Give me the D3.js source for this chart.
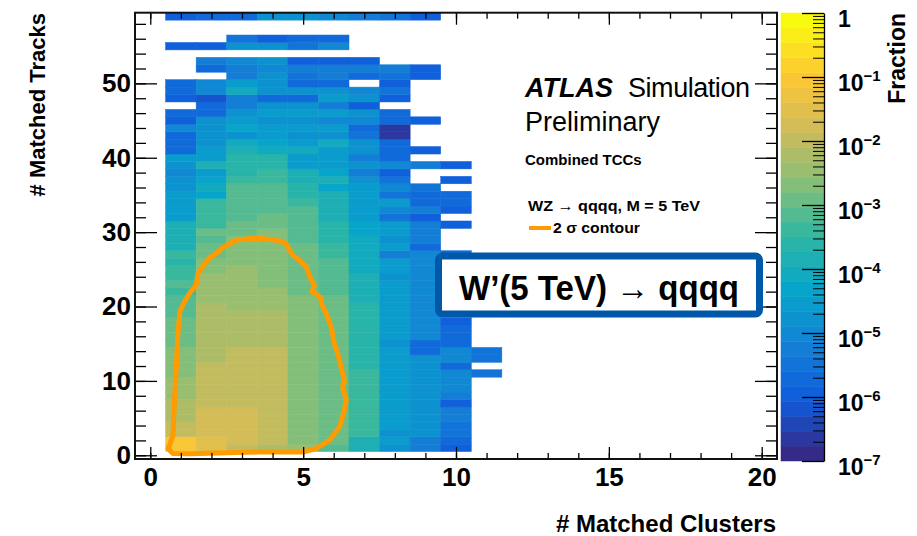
<!DOCTYPE html>
<html>
<head>
<meta charset="utf-8">
<script src="https://cdn.jsdelivr.net/npm/d3@7"></script>
<style>
  body { margin: 0; background: #fff; }
  svg { display: block; }
  text { font-family: "Liberation Sans", Arial, Helvetica, sans-serif; fill: #000; }
</style>
</head>
<body>
<div id="chart"></div>
<script>
// log10(fraction) per bin, index = # matched tracks (0..59), one array per # matched clusters
const _ = null;
const col1 = [_, -1.0, -1.1, -1.9, -1.95, -2.25, -2.25, -2.3, -2.5, -2.5,
  -2.55, -2.7, -2.7, -2.75, -2.75, -2.95, -2.95, -3.0, -3.0, -3.2,
  -3.25, -3.25, -3.3, -3.25, -3.3, -3.5, -3.55, -3.5, -3.8, -3.8,
  -3.8, -3.9, -4.45, -4.45, -4.5, -4.6, -4.8, -4.8, -5.0, -4.8,
  -4.6, -5.65, -5.8, -5.8, -5.0, -5.9, -5.8, _, -5.95, -5.7,
  -5.8, _, _, _, _, -5.9, _, _, _, -6.0];
const col2 = [_, -1.5, -1.55, -1.75, -1.75, -1.75, -1.75, -1.95, -1.95, -1.95,
  -2.0, -2.0, -2.0, -2.15, -2.15, -2.15, -2.15, -2.3, -2.3, -2.3,
  -2.3, -2.55, -2.55, -2.55, -2.55, -2.8, -2.8, -2.9, -2.9, -3.1,
  -3.0, -3.4, -3.4, -3.4, -3.5, -4.35, -4.1, -4.4, -4.45, -3.8,
  -4.6, -4.6, -4.9, -4.9, -4.8, -4.9, -5.65, -5.7, -6.1, -5.0,
  -5.0, _, -5.8, -5.3, _, -5.9, _, _, _, -5.8];
const col3 = [_, -1.95, -1.75, -1.75, -1.75, -1.75, -1.75, -1.95, -1.95, -1.95,
  -1.95, -1.95, -1.95, -1.95, -1.95, -2.2, -2.2, -2.2, -2.2, -2.2,
  -2.55, -2.55, -2.55, -2.55, -2.55, -2.55, -2.7, -2.7, -2.7, -2.8,
  -2.9, -2.9, -3.1, -3.1, -3.2, -3.25, -3.25, -3.4, -3.7, -3.6,
  -3.7, -3.8, -4.1, -4.8, -4.3, -4.6, -4.8, -5.2, -5.3, -4.2,
  -4.6, -5.3, -5.3, -5.0, _, -4.9, -5.5, _, _, -5.8];
const col4 = [_, -2.2, -1.9, -1.9, -1.9, -1.9, -1.9, -1.95, -1.95, -1.95,
  -1.95, -1.95, -1.95, -1.95, -1.95, -2.15, -2.15, -2.15, -2.3, -2.3,
  -2.5, -2.5, -2.5, -2.65, -2.65, -2.65, -2.65, -2.65, -2.65, -2.75,
  -2.8, -2.9, -2.9, -3.05, -3.2, -3.2, -3.25, -3.45, -3.45, -3.6,
  -3.6, -4.2, -4.35, -4.6, -4.45, -4.8, -4.6, -4.8, -5.7, -4.8,
  -4.9, -4.9, -5.0, -4.9, _, -4.9, -5.9, _, _, -4.9];
const col5 = [_, -2.45, -2.6, -2.6, -2.6, -2.6, -2.6, -2.6, -2.6, -2.6,
  -2.6, -2.6, -2.6, -2.6, -2.6, -2.6, -2.6, -2.6, -2.6, -2.6,
  -2.6, -2.6, -2.85, -2.85, -2.85, -2.85, -2.85, -2.85, -2.85, -3.05,
  -3.1, -3.1, -3.25, -3.25, -3.4, -3.6, -3.6, -3.8, -3.8, -4.55,
  -4.45, -4.2, -4.45, -4.9, -4.6, -4.8, -4.6, -4.9, -5.7, -4.9,
  -5.65, -5.55, -5.3, -5.95, _, -5.55, -5.7, _, _, -4.9];
const col6 = [_, -3.2, -2.85, -2.85, -2.85, -2.85, -2.85, -2.85, -2.85, -2.85,
  -2.85, -2.85, -2.85, -2.85, -2.85, -2.85, -2.85, -2.85, -2.85, -2.85,
  -2.85, -2.85, -3.25, -3.25, -3.25, -3.25, -3.25, -3.5, -3.5, -3.6,
  -3.7, -3.7, -3.8, -3.8, -3.8, -3.8, -4.35, -3.9, -4.35, -4.45,
  -4.6, -4.6, -4.2, -4.7, -4.6, -5.0, -4.6, -5.3, -4.6, -4.8,
  -5.65, -5.3, -5.3, -6.0, _, -5.1, -5.7, _, _, -5.0];
const col7 = [_, -3.8, -3.8, -3.45, -3.45, -3.45, -3.45, -3.45, -3.45, -3.45,
  -3.45, -3.45, -3.65, -3.65, -3.65, -3.65, -3.65, -3.65, -3.65, -3.65,
  -3.65, -3.8, -3.8, -3.8, -3.8, -4.1, -4.1, -4.1, -4.1, -4.1,
  -4.35, -4.35, -4.45, -4.45, -4.45, -4.6, -4.6, -4.7, -5.3, -4.8,
  -5.3, -4.9, -4.8, -5.55, -5.65, -5.0, -4.9, -5.9, -4.9, -5.0,
  _, -5.65, -5.3, -6.0, _, _, _, _, _, -5.3];
const col8 = [_, -4.9, -4.5, -4.8, -4.5, -4.5, -4.5, -4.5, -4.5, -4.5,
  -4.5, -4.5, -4.5, -4.5, -4.5, -4.8, -4.5, -4.5, -4.5, -4.5,
  -4.5, -4.5, -4.5, -4.5, -4.8, -4.5, -4.5, -5.3, -4.45, -4.7,
  -4.6, -4.6, -5.55, -5.0, -4.6, -5.55, -5.0, -5.55, -5.9, -5.0,
  -5.8, -5.65, -5.65, -6.7, -6.7, -5.65, -5.7, _, -6.0, -5.55,
  -5.95, -5.55, -5.3, _, _, _, _, _, _, -5.55];
const col9 = [_, -5.3, -5.2, -4.9, -4.9, -4.9, -4.9, -4.9, -4.9, -4.9,
  -4.9, -4.9, -4.9, -4.9, -5.65, -5.65, -5.0, -5.0, -5.0, -5.0,
  -5.0, -5.0, -5.0, -5.0, -5.0, -5.0, -5.0, -5.0, -5.7, -5.3,
  -5.3, -5.3, -5.95, -5.3, -5.65, -5.8, -5.55, _, _, -5.3,
  _, -6.0, _, _, _, -6.0, _, _, _, _,
  _, -6.0, -6.0, _, _, _, _, _, _, -6.0];
const col10 = [_, -6.0, -5.8, -5.55, -5.55, -5.3, -5.3, -5.9, -5.3, -5.0,
  -5.0, -5.1, -5.8, -5.0, -5.0, -5.65, -5.8, -5.8, -5.95, _,
  _, _, _, _, _, _, _, -5.8, _, _,
  _, -6.0, _, -5.95, -5.7, -5.7, _, -6.0, _, -6.0];
const col11 = [_, _, _, _, _, _, _, _, _, _,
  _, -5.55, _, -5.55, -5.55];

const clusterBins = [1, 2, 3, 4, 5, 6, 7, 8, 9, 10, 11];
const trackCols = [col1, col2, col3, col4, col5, col6, col7, col8, col9, col10, col11];

// 2 sigma contour (clusters, tracks)
const contourX = [0.58, 0.74, 1.28, 3.57, 4.98, 5.42, 5.86, 6.19, 6.35, 6.41,
  6.29, 6.35, 6.24, 6.13, 6.02, 5.92, 5.75, 5.59, 5.59, 5.42,
  5.29, 5.37, 5.26, 5.10, 4.88, 4.66, 4.55, 4.44, 4.12, 3.68,
  3.25, 2.81, 2.37, 2.16, 1.94, 1.67, 1.56, 1.50, 1.28, 1.12,
  0.97, 0.90, 0.85, 0.79, 0.74, 0.63];
const contourY = [0.90, 0.23, 0.20, 0.44, 0.44, 0.90, 2.02, 3.81, 6.05, 7.40,
  9.19, 10.09, 11.88, 13.68, 15.03, 17.26, 19.06, 20.45, 21.08, 21.75,
  21.97, 22.87, 23.54, 25.33, 26.23, 26.90, 27.57, 28.48, 28.92, 29.15,
  29.15, 28.92, 27.94, 27.13, 26.59, 25.11, 24.44, 22.87, 21.75, 20.62,
  19.37, 16.14, 11.66, 7.17, 2.69, 1.35];

const xMajor = [0, 5, 10, 15, 20];
const xMinor = [0, 1, 2, 3, 4, 5, 6, 7, 8, 9, 10, 11, 12, 13, 14, 15, 16, 17, 18, 19, 20];
const yMajor = [0, 10, 20, 30, 40, 50];
const yMinor = [0, 2, 4, 6, 8, 10, 12, 14, 16, 18, 20, 22, 24, 26, 28, 30, 32, 34, 36, 38, 40, 42, 44, 46, 48, 50, 52, 54, 56, 58];
const zDecades = [-7, -6, -5, -4, -3, -2, -1, 0];

// ROOT kBird palette
const birdStops = [0, 0.125, 0.25, 0.375, 0.5, 0.625, 0.75, 0.875, 1];
const birdColors = ["rgb(53,42,135)", "rgb(15,92,221)", "rgb(20,129,214)", "rgb(6,164,202)",
  "rgb(46,183,164)", "rgb(135,191,119)", "rgb(209,187,89)", "rgb(254,200,50)", "rgb(249,251,14)"];
const nLevels = 30;

var svg = d3.select("#chart").append("svg")
  .attr("width", 917)
  .attr("height", 536);

var x = d3.scaleLinear().domain([-0.5, 20.5]).range([135, 777]);
var y = d3.scaleLinear().domain([-0.5, 59.5]).range([459, 12.7]);
var z = d3.scaleLog().domain([1e-7, 1]).range([461, 13]);
var bird = d3.scaleLinear().domain(birdStops).range(birdColors).interpolate(d3.interpolateRgb);

function levelOf(lv) {
  return Math.max(0, Math.min(nLevels - 1, Math.floor((lv + 7) / 7 * nLevels + 1e-6)));
}
function levelColor(i) { return bird(i / (nLevels - 1)); }

// cells
var cells = [];
trackCols.forEach(function(col, i) {
  col.forEach(function(v, r) {
    if (v !== null) cells.push({c: clusterBins[i], r: r, v: v});
  });
});

svg.append("g").selectAll("rect")
  .data(cells)
  .join("rect")
  .attr("x", d => x(d.c - 0.5))
  .attr("width", d => x(d.c + 0.5) - x(d.c - 0.5))
  .attr("y", d => y(d.r + 0.5))
  .attr("height", d => y(d.r - 0.5) - y(d.r + 0.5))
  .attr("fill", d => levelColor(levelOf(d.v)))
  .attr("stroke", d => levelColor(levelOf(d.v)))
  .attr("stroke-width", 0.5);

// contour
var contourPts = contourX.map((cx, i) => [cx, contourY[i]]);
svg.append("path")
  .datum(contourPts)
  .attr("d", d3.line().x(d => x(d[0])).y(d => y(d[1])).curve(d3.curveLinearClosed))
  .attr("fill", "none")
  .attr("stroke", "#ff9a00")
  .attr("stroke-width", 5)
  .attr("stroke-linejoin", "round");

// axes (ticks inside the frame, ROOT style)
function styleAxis(g) {
  g.select(".domain").remove();
  g.selectAll(".tick line").attr("stroke", "#000").attr("stroke-width", 1.3);
}
svg.append("g").attr("transform", "translate(0,459)")
  .call(d3.axisBottom(x).tickValues(xMinor).tickSizeInner(-6).tickSizeOuter(0).tickFormat(""))
  .call(styleAxis);
svg.append("g").attr("transform", "translate(0,459)")
  .call(d3.axisBottom(x).tickValues(xMajor).tickSizeInner(-12).tickSizeOuter(0).tickPadding(9))
  .call(styleAxis)
  .selectAll("text").attr("font-size", 26).attr("font-weight", "bold").attr("font-family", null);
svg.append("g").attr("transform", "translate(0,12.7)")
  .call(d3.axisTop(x).tickValues(xMinor).tickSizeInner(-6).tickSizeOuter(0).tickFormat(""))
  .call(styleAxis);
svg.append("g").attr("transform", "translate(0,12.7)")
  .call(d3.axisTop(x).tickValues(xMajor).tickSizeInner(-12).tickSizeOuter(0).tickFormat(""))
  .call(styleAxis);
svg.append("g").attr("transform", "translate(135,0)")
  .call(d3.axisLeft(y).tickValues(yMinor).tickSizeInner(-11).tickSizeOuter(0).tickFormat(""))
  .call(styleAxis);
svg.append("g").attr("transform", "translate(135,0)")
  .call(d3.axisLeft(y).tickValues(yMajor).tickSizeInner(-22).tickSizeOuter(0).tickPadding(4))
  .call(styleAxis)
  .selectAll("text").attr("font-size", 26).attr("font-weight", "bold").attr("font-family", null);
svg.append("g").attr("transform", "translate(777,0)")
  .call(d3.axisRight(y).tickValues(yMinor).tickSizeInner(-11).tickSizeOuter(0).tickFormat(""))
  .call(styleAxis);
svg.append("g").attr("transform", "translate(777,0)")
  .call(d3.axisRight(y).tickValues(yMajor).tickSizeInner(-22).tickSizeOuter(0).tickFormat(""))
  .call(styleAxis);

// frame
svg.append("rect")
  .attr("x", 135).attr("y", 12.7)
  .attr("width", 642).attr("height", 446.3)
  .attr("fill", "none")
  .attr("stroke", "#111")
  .attr("stroke-width", 2);

// axis titles
svg.append("text")
  .attr("transform", "translate(45,13) rotate(-90)")
  .attr("text-anchor", "end")
  .attr("font-size", 22).attr("font-weight", "bold")
  .text("# Matched Tracks");
svg.append("text")
  .attr("x", 776).attr("y", 532)
  .attr("text-anchor", "end")
  .attr("font-size", 24).attr("font-weight", "bold")
  .text("# Matched Clusters");

// colour bar
var levelIdx = d3.range(nLevels);
svg.append("g").selectAll("rect")
  .data(levelIdx)
  .join("rect")
  .attr("x", 781).attr("width", 43)
  .attr("y", i => z(Math.pow(10, -7 + (i + 1) * 7 / nLevels)))
  .attr("height", i => z(Math.pow(10, -7 + i * 7 / nLevels)) - z(Math.pow(10, -7 + (i + 1) * 7 / nLevels)))
  .attr("fill", i => levelColor(i))
  .attr("stroke", i => levelColor(i))
  .attr("stroke-width", 0.5);

var zMinor = z.ticks().filter(v => Math.abs(Math.log10(v) - Math.round(Math.log10(v))) > 1e-6);
svg.append("g").attr("transform", "translate(824,0)")
  .call(d3.axisRight(z).tickValues(zMinor).tickSizeInner(-11).tickSizeOuter(0).tickFormat(""))
  .call(g => g.selectAll(".tick line").attr("stroke", "#000").attr("stroke-width", 1))
  .call(g => g.select(".domain").attr("stroke", "#000").attr("stroke-width", 1.3));
svg.append("g").attr("transform", "translate(824,0)")
  .call(d3.axisRight(z).tickValues(zDecades.map(e => Math.pow(10, e))).tickSizeInner(-22).tickSizeOuter(0).tickFormat(""))
  .call(styleAxis);

var zLab = svg.append("g").selectAll("text")
  .data(zDecades)
  .join("text")
  .attr("x", 838)
  .attr("y", e => z(Math.pow(10, e)) + 14)
  .attr("font-size", 23).attr("font-weight", "bold");
zLab.filter(e => e === 0).text("1");
zLab.filter(e => e !== 0).text("10")
  .append("tspan")
  .attr("dy", -10)
  .attr("font-size", 15)
  .text(e => "\u2212" + (-e));

svg.append("text")
  .attr("transform", "translate(905,13) rotate(-90)")
  .attr("text-anchor", "end")
  .attr("font-size", 23).attr("font-weight", "bold")
  .text("Fraction");

// ATLAS label and legend
var lab = svg.append("text").attr("x", 525).attr("y", 97).attr("font-size", 27);
lab.append("tspan").attr("font-weight", "bold").attr("font-style", "italic").text("ATLAS");
lab.append("tspan").attr("x", 628).attr("textLength", 122).text("Simulation");
svg.append("text").attr("x", 525).attr("y", 131).attr("font-size", 27).text("Preliminary");
svg.append("text").attr("x", 525).attr("y", 165).attr("font-size", 15).attr("font-weight", "bold")
  .text("Combined TCCs");
svg.append("text").attr("x", 528).attr("y", 211).attr("font-size", 15.5).attr("font-weight", "bold")
  .attr("textLength", 172).attr("lengthAdjust", "spacingAndGlyphs")
  .text("WZ \u2192 qqqq, M = 5 TeV");
svg.append("line")
  .attr("x1", 529).attr("x2", 551).attr("y1", 228).attr("y2", 228)
  .attr("stroke", "#ff9a00").attr("stroke-width", 4);
svg.append("text").attr("x", 553).attr("y", 233).attr("font-size", 15.5).attr("font-weight", "bold")
  .attr("textLength", 87).attr("lengthAdjust", "spacingAndGlyphs")
  .text("2 \u03c3 contour");

// highlighted process box
svg.append("rect")
  .attr("x", 438.5).attr("y", 256)
  .attr("width", 321).attr("height", 58)
  .attr("rx", 4)
  .attr("fill", "#fff")
  .attr("stroke", "#0059a8")
  .attr("stroke-width", 7);
svg.append("text")
  .attr("x", 599).attr("y", 300)
  .attr("text-anchor", "middle")
  .attr("font-family", "'DejaVu Sans', sans-serif")
  .attr("font-size", 35).attr("font-weight", "bold")
  .attr("textLength", 280).attr("lengthAdjust", "spacingAndGlyphs")
  .text("W\u2019(5 TeV) \u2192 qqqq");
</script>
</body>
</html>
